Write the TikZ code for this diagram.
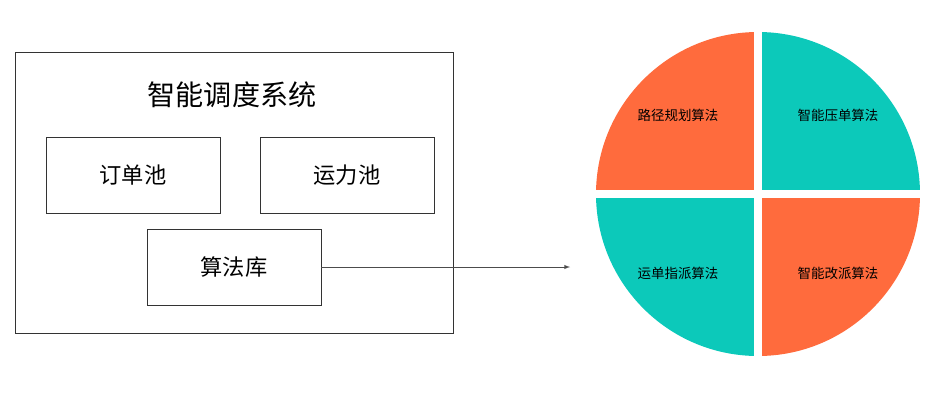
\documentclass[tikz,border=0pt]{standalone}
\usepackage{fontspec}
\setmainfont{Noto Sans CJK SC}
\definecolor{org}{HTML}{FF6B3D}
\definecolor{tea}{HTML}{0CC9BA}
\begin{document}
\begin{tikzpicture}[x=0.03cm,y=-0.03cm,
  box/.style={draw=black!80,line width=0.8pt,fill=white,minimum width=174*0.03cm,minimum height=76*0.03cm,font=\fontsize{19}{22}\selectfont},
  ql/.style={font=\fontsize{11.5}{13}\selectfont}]
\useasboundingbox (0,0) rectangle (935,418);
\node[draw=black!80,line width=0.8pt,minimum width=438*0.03cm,minimum height=281*0.03cm] (sys) at (234,192.5) {};
\node[font=\fontsize{24}{28}\selectfont] (title) at (232,95) {智能调度系统};
\node[box] (orders) at (133,175) {订单池};
\node[box] (cap) at (347,175) {运力池};
\node[box] (alg) at (234,267) {算法库};
\coordinate (tgt) at (570,267);
\draw[black!70,line width=0.7pt,-latex] (alg.east) -- (tgt);
\coordinate (c) at (758,194);
\fill[org] (c) -- (596,194) arc[start angle=180,end angle=270,radius=162] -- cycle;
\fill[tea] (c) -- (758,32) arc[start angle=270,end angle=360,radius=162] -- cycle;
\fill[tea] (c) -- (596,194) arc[start angle=180,end angle=90,radius=162] -- cycle;
\fill[org] (c) -- (920,194) arc[start angle=0,end angle=90,radius=162] -- cycle;
\draw[white,line width=8*0.85pt] (590,194) -- (926,194) (758,26) -- (758,362);
\node[ql] (q1) at (678,115) {路径规划算法};
\node[ql] (q2) at (838,115) {智能压单算法};
\node[ql] (q3) at (678,273) {运单指派算法};
\node[ql] (q4) at (838,273) {智能改派算法};
\end{tikzpicture}
\end{document}
